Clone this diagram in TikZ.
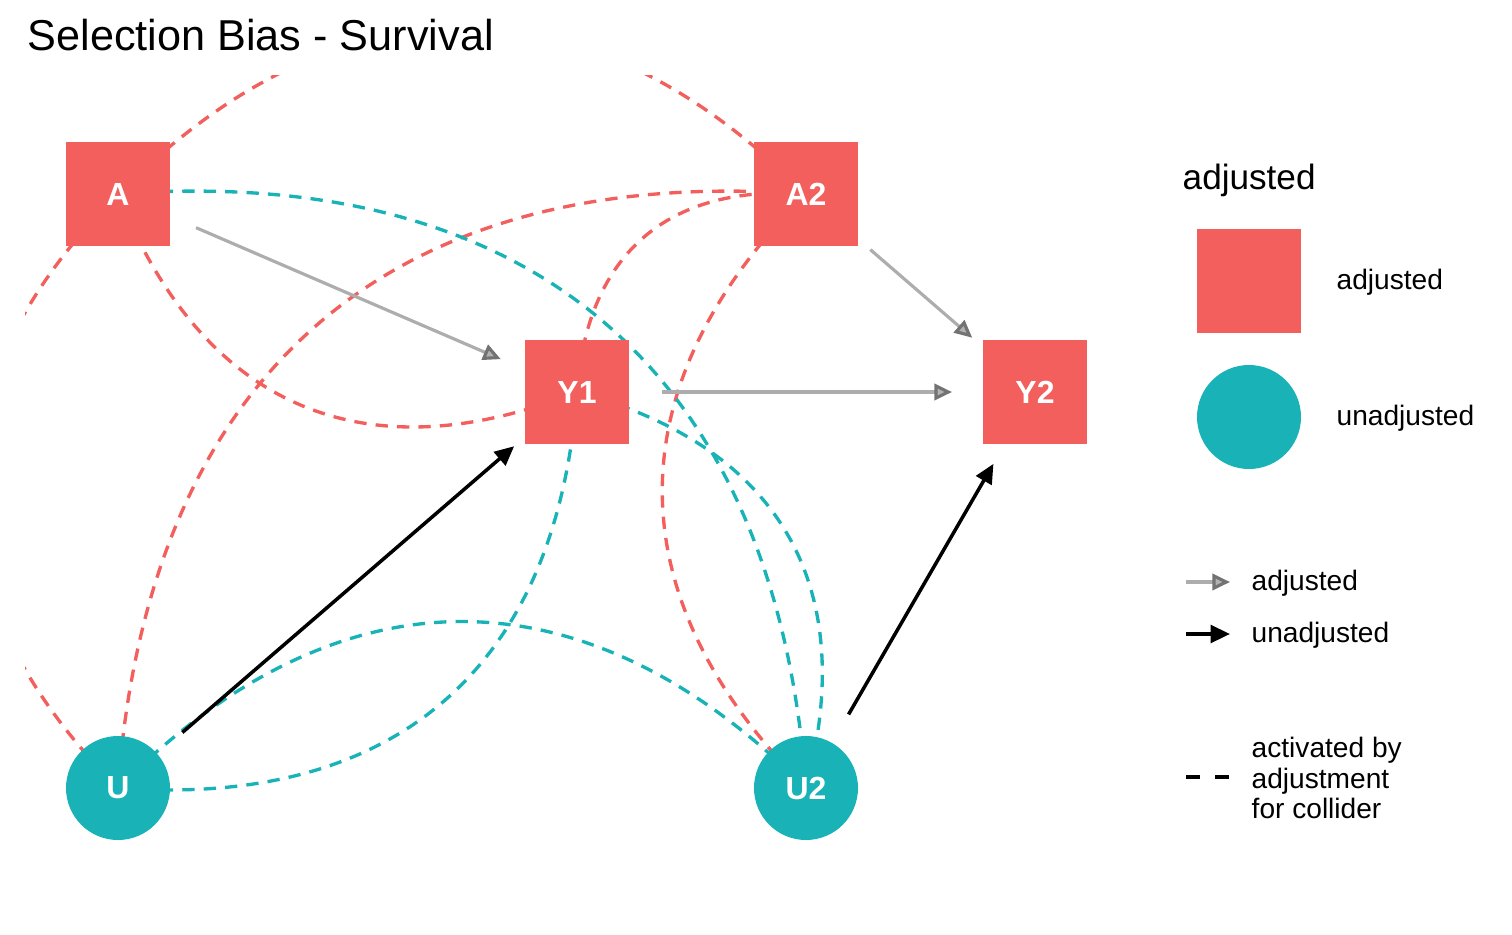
\documentclass[tikz,border=0pt]{standalone}
\usepackage{fontspec}
\setmainfont{Liberation Sans}
\usepackage{tikz}
\usetikzlibrary{arrows.meta,backgrounds,positioning}
\definecolor{adjred}{HTML}{F25F5C}
\definecolor{unadjteal}{HTML}{19B3B7}
\tikzset
{
    adjnode/.style   = {rectangle, fill=adjred, text=white, align=center, minimum size=1.04cm, inner sep=0pt, font=\fontsize{9.1}{10}\selectfont\bfseries},
    unadjnode/.style = {circle, fill=unadjteal, text=white, align=center, minimum size=1.04cm, inner sep=0pt, font=\fontsize{9.1}{10}\selectfont\bfseries},
    collred/.style   = {draw=adjred, line width=0.95pt, dash pattern=on 3.5pt off 2.6pt, bend angle=45, looseness=1.17},
    collteal/.style  = {draw=unadjteal, line width=0.95pt, dash pattern=on 3.5pt off 2.6pt, bend angle=45, looseness=1.17},
    adjedge/.style   = {draw=black!32, line width=0.9pt, -{Triangle[length=5pt,width=4.6pt,fill=black!30,color=black!55]}, shorten <=8.5mm, shorten >=8.3mm},
    unadjedge/.style = {draw=black, line width=1pt, -{Triangle[length=5.5pt,width=5pt]}, shorten <=8.5mm, shorten >=8.3mm},
    legendtext/.style = {anchor=west, align=left, inner sep=0pt, font=\fontsize{8}{8.8}\selectfont}
}

\begin{document}
\begin{tikzpicture}
	\useasboundingbox (0,0) rectangle (15.12,9.34);
	\node[anchor=west, inner sep=0pt, font=\fontsize{12.3}{14}\selectfont] (title) at (0.27,8.99) {Selection Bias - Survival};
	% dag nodes
	\node[adjnode] (A) at (1.18,7.40) {A};
	\node[adjnode] (A2) at (8.06,7.40) {A2};
	\node[adjnode] (Y1) at (5.77,5.42) {Y1};
	\node[adjnode] (Y2) at (10.35,5.42) {Y2};
	\node[unadjnode] (U) at (1.18,1.46) {U};
	\node[unadjnode] (U2) at (8.06,1.46) {U2};
	% paths opened by the collider
	\begin{scope}[on background layer]
		\clip (0.25,0.4) rectangle (11.3,8.59);
		\draw[collred] (A.center) to[bend left] (A2.center);
		\draw[collred] (A.center) to[bend right] (U.center);
		\draw[collred] (A.center) to[bend right] (Y1.center);
		\draw[collred] (U.center) to[bend left] (A2.center);
		\draw[collred] (Y1.center) to[bend left] (A2.center);
		\draw[collred] (A2.center) to[bend right] (U2.center);
		\draw[collteal] (A.center) to[bend left] (U2.center);
		\draw[collteal] (Y1.center) to[bend left] (U2.center);
		\draw[collteal] (U.center) to[bend right] (Y1.center);
		\draw[collteal] (U.center) to[bend left] (U2.center);
	\end{scope}
	% edges
	\draw[adjedge] (A.center) -- (Y1.center);
	\draw[adjedge] (A2.center) -- (Y2.center);
	\draw[adjedge] (Y1.center) -- (Y2.center);
	\draw[unadjedge] (U.center) -- (Y1.center);
	\draw[unadjedge] (U2.center) -- (Y2.center);
	% legend
	\node[anchor=west, inner sep=0pt, font=\fontsize{10}{12}\selectfont] (legtitle) at (11.82,7.54) {adjusted};
	\node[adjnode] (keyadj) at (12.49,6.53) {};
	\node[unadjnode] (keyunadj) at (12.49,5.17) {};
	\begin{scope}[on background layer]
		\draw[adjred, line width=0.6pt] ([xshift=-0.3mm]keyadj.west) -- ([xshift=0.3mm]keyadj.east);
		\draw[unadjteal, line width=0.6pt] ([xshift=-0.3mm]keyunadj.west) -- ([xshift=0.3mm]keyunadj.east);
	\end{scope}
	\node[legendtext] (labadj) at (13.36,6.52) {adjusted};
	\node[legendtext] (labunadj) at (13.36,5.16) {unadjusted};
	\coordinate (ga) at (11.86,3.52);
	\coordinate (gb) at (12.30,3.52);
	\coordinate (ba) at (11.86,3.00);
	\coordinate (bb) at (12.30,3.00);
	\coordinate (da) at (11.86,1.57);
	\coordinate (db) at (12.29,1.57);
	\draw[adjedge, shorten <=0pt, shorten >=0pt] (ga) -- (gb);
	\draw[unadjedge, shorten <=0pt, shorten >=0pt] (ba) -- (bb);
	\draw[black, line width=0.9pt, dash pattern=on 1.4mm off 1.5mm] (da) -- (db);
	\node[legendtext] (labga) at (12.51,3.51) {adjusted};
	\node[legendtext] (labba) at (12.51,2.99) {unadjusted};
	\node[legendtext] (labda) at (12.51,1.56) {activated by\\adjustment\\for collider};
\end{tikzpicture}
\end{document}
